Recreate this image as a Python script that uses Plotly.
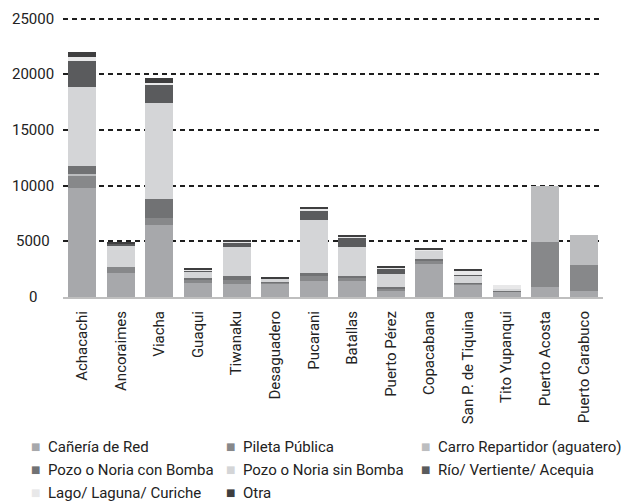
import plotly.graph_objects as go

# Municipios (eje X)
municipios = [
    "Achacachi", "Ancoraimes", "Viacha", "Guaqui", "Tiwanaku", "Desaguadero",
    "Pucarani", "Batallas", "Puerto Pérez", "Copacabana", "San P. de Tiquina",
    "Tito Yupanqui", "Puerto Acosta", "Puerto Carabuco",
]

# Hogares por fuente de agua, una lista por serie (mismo orden que municipios)
caneria_red = [9800, 2150, 6450, 1250, 1170, 1190, 1430, 1430, 540, 2960, 1080, 475, 870, 540]
pileta_publica = [1150, 540, 630, 270, 360, 90, 450, 360, 200, 300, 90, 0, 4080, 2330]
carro_repartidor = [100, 0, 0, 0, 0, 0, 0, 0, 0, 0, 0, 0, 5050, 2690]
pozo_con_bomba = [700, 0, 1700, 180, 360, 90, 270, 90, 150, 150, 90, 90, 0, 0]
pozo_sin_bomba = [7100, 1880, 8610, 630, 2600, 270, 4750, 2630, 1200, 745, 630, 180, 0, 0]
rio_vertiente = [2360, 200, 1730, 90, 390, 50, 900, 810, 450, 60, 90, 0, 0, 0]
lago_laguna = [330, 40, 60, 90, 60, 0, 90, 90, 150, 90, 360, 360, 0, 0]
otra = [470, 80, 450, 90, 120, 40, 180, 90, 90, 90, 90, 0, 0, 0]

series_names = [
    "Cañería de Red", "Pileta Pública", "Carro Repartidor (aguatero)",
    "Pozo o Noria con Bomba", "Pozo o Noria sin Bomba", "Río/ Vertiente/ Acequia",
    "Lago/ Laguna/ Curiche", "Otra",
]
series_values = [
    caneria_red, pileta_publica, carro_repartidor, pozo_con_bomba,
    pozo_sin_bomba, rio_vertiente, lago_laguna, otra,
]
series_colors = [
    "#A7A8AB", "#87888A", "#BCBDBF", "#717274",
    "#D4D5D7", "#5A5B5D", "#E8E8E9", "#3E3E3F",
]

# Eje Y
y_ticks = [0, 5000, 10000, 15000, 20000, 25000]
y_tick_labels = ["0", "5000", "10000", "15000", "20000", "25000"]
Y_MAX = 25150  # a little headroom so the 25000 grid line is drawn

FONT = "Roboto"
TEXT_COLOR = "#222222"

fig = go.Figure()
for name, vals, color in zip(series_names, series_values, series_colors):
    fig.add_trace(go.Bar(
        x=municipios, y=vals, name=name,
        marker=dict(color=color, line=dict(width=0)),
        showlegend=False,
    ))

# Plot-area geometry in pixels
W, H = 625, 502
M_LEFT, M_RIGHT, M_TOP, M_BOTTOM = 63, 22, 17.0, 204.6

annotations = []
# Y tick labels, centred in the left margin
for v, lab in zip(y_ticks, y_tick_labels):
    annotations.append(dict(
        x=0, xref="paper", y=v, yref="y", xshift=-30,
        text=lab, showarrow=False, xanchor="center", yanchor="middle",
        font=dict(family=FONT, size=15, color=TEXT_COLOR),
    ))

# Legend: three columns, filled row by row
legend_cols = [35, 230, 425]        # swatch centre, px from left edge
legend_rows = [447, 470, 493]        # row centre, px from top edge
for i, (name, color) in enumerate(zip(series_names, series_colors)):
    cx = legend_cols[i % 3]
    cy = legend_rows[i // 3]
    yshift = (H - M_BOTTOM) - cy
    annotations.append(dict(
        x=0, xref="paper", y=0, yref="paper",
        xshift=cx - M_LEFT, yshift=yshift,
        text="■", showarrow=False, xanchor="center", yanchor="middle",
        font=dict(family="DejaVu Sans", size=10, color=color),
    ))
    annotations.append(dict(
        x=0, xref="paper", y=0, yref="paper",
        xshift=cx + 11 - M_LEFT, yshift=yshift,
        text=name, showarrow=False, xanchor="left", yanchor="middle",
        font=dict(family=FONT, size=15, color=TEXT_COLOR),
    ))

fig.update_layout(
    width=W, height=H,
    barmode="stack", bargap=0.274,
    plot_bgcolor="white", paper_bgcolor="white",
    margin=dict(l=M_LEFT, r=M_RIGHT, t=M_TOP, b=M_BOTTOM, autoexpand=False),
    font=dict(family=FONT, size=15, color=TEXT_COLOR),
    annotations=annotations,
    xaxis=dict(
        showline=True, linecolor="#BFBFBF", linewidth=2,
        ticks="", tickangle=-90, showgrid=False, ticklabelstandoff=6,
        tickfont=dict(family=FONT, size=15, color=TEXT_COLOR),
    ),
    yaxis=dict(
        range=[0, Y_MAX], tickmode="array", tickvals=y_ticks[1:],
        showticklabels=False, ticks="",
        showgrid=True, gridcolor="#1E1E1E", gridwidth=1.5, griddash="5px,4px",
        zeroline=False, showline=False,
    ),
)

fig.write_html("out.html")
